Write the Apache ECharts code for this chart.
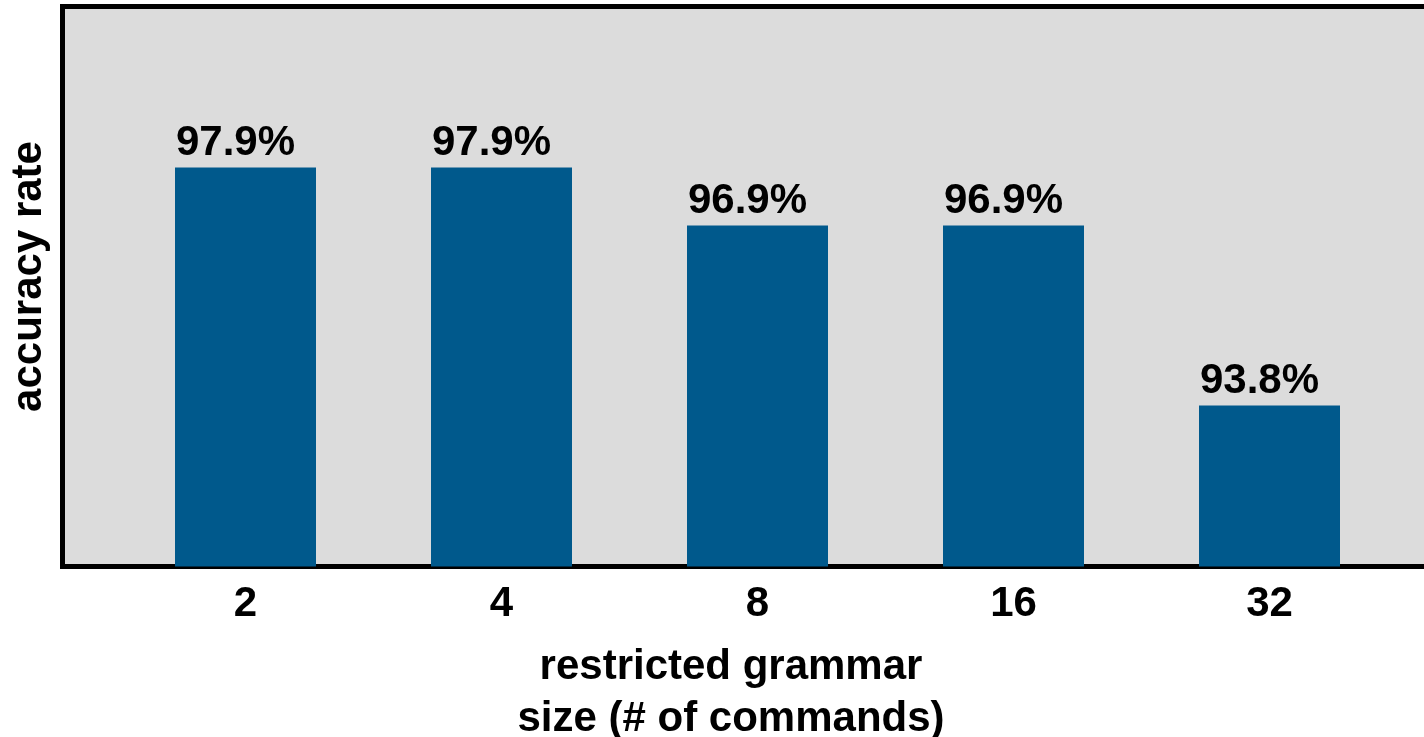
<!DOCTYPE html>
<html>
<head>
<meta charset="utf-8">
<script src="https://cdn.jsdelivr.net/npm/echarts@6/dist/echarts.min.js"></script>
<style>
    html, body { margin: 0; padding: 0; background: #fff; }
    #chart { width: 1424px; height: 737px; }
</style>
</head>
<body>
<div id="chart"></div>
<script>
// grammar sizes and accuracy (%)
const grammarSizes = ['2', '4', '8', '16', '32'];
const accuracy = [97.9, 97.9, 96.9, 96.9, 93.8];

const font = '"Liberation Sans", Arial, Helvetica, sans-serif';

let myChart = echarts.init(document.getElementById('chart'));
myChart.setOption({
    animation: false,
    textStyle: { fontFamily: font, color: '#000' },
    grid: [
        {
            // frame with grey background
            left: 62.5, top: 6.5, right: -20, bottom: 170.5,
            show: true,
            backgroundColor: '#dcdcdc',
            borderColor: '#000',
            borderWidth: 5,
            outerBoundsMode: 'none'
        },
        {
            // bars
            left: 117.5, top: 6.5, width: 1280, bottom: 170.5,
            outerBoundsMode: 'none'
        }
    ],
    xAxis: [
        {
            gridIndex: 0, type: 'value', min: 0, max: 1, show: false
        },
        {
            gridIndex: 1,
            type: 'category',
            data: grammarSizes,
            axisLine: { show: false },
            axisTick: { show: false },
            splitLine: { show: false },
            axisLabel: {
                margin: 17,
                fontSize: 42,
                fontWeight: 'bold',
                color: '#000',
                fontFamily: font
            },
            name: 'restricted grammar\nsize (# of commands)',
            nameLocation: 'middle',
            nameGap: 75,
            nameTextStyle: {
                fontSize: 42,
                fontWeight: 'bold',
                lineHeight: 52,
                color: '#000',
                fontFamily: font,
                padding: [0, 53, 0, 0]
            }
        }
    ],
    yAxis: [
        {
            gridIndex: 0,
            type: 'value',
            min: 0, max: 1,
            axisLine: { show: false },
            axisTick: { show: false },
            axisLabel: { show: false },
            splitLine: { show: false },
            name: 'accuracy rate',
            nameLocation: 'middle',
            nameGap: 12,
            nameTextStyle: {
                fontSize: 42,
                fontWeight: 'bold',
                color: '#000',
                fontFamily: font,
                padding: [0, 0, 0, 20]
            }
        },
        {
            gridIndex: 1,
            type: 'value',
            min: 91.03,
            max: 100.67,
            show: false
        }
    ],
    series: [
        {
            type: 'bar',
            xAxisIndex: 1,
            yAxisIndex: 1,
            data: accuracy,
            barWidth: 141,
            itemStyle: { color: '#00598c' },
            label: {
                show: true,
                position: 'top',
                distance: 3,
                offset: [-10, 0],
                formatter: '{c}%',
                fontSize: 42,
                fontWeight: 'bold',
                color: '#000',
                fontFamily: font
            }
        }
    ]
});
</script>
</body>
</html>
